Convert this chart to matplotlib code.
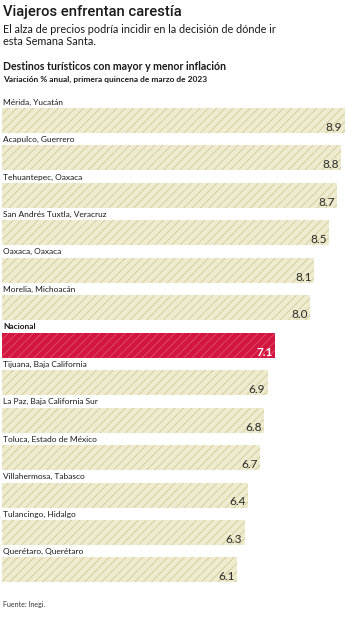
import matplotlib
matplotlib.use('Agg')
import matplotlib.pyplot as plt

# data
destinos = ['Mérida, Yucatán', 'Acapulco, Guerrero', 'Tehuantepec, Oaxaca',
            'San Andrés Tuxtla, Veracruz', 'Oaxaca, Oaxaca', 'Morelia, Michoacán',
            'Nacional', 'Tijuana, Baja California', 'La Paz, Baja California Sur',
            'Toluca, Estado de México', 'Villahermosa, Tabasco', 'Tulancingo, Hidalgo',
            'Querétaro, Querétaro']
inflacion = [8.9, 8.8, 8.7, 8.5, 8.1, 8.0, 7.1, 6.9, 6.8, 6.7, 6.4, 6.3, 6.1]

W, H = 346, 620
plt.rcParams['hatch.linewidth'] = 0.8
fig = plt.figure(figsize=(W/100, H/100), dpi=100)
fig.patch.set_facecolor('white')

fam = ['Lato', 'DejaVu Sans']
# no condensed face installed: Roboto medium, sized to the headline width
title = fig.text(3/W, 1-5/H, 'Viajeros enfrentan carestía', family=['Roboto', 'DejaVu Sans'],
                 fontweight='medium', fontsize=14, va='top', ha='left', color='#1a1a1a')
fig.canvas.draw()
tw = title.get_window_extent().width
title.set_fontsize(14*178/tw)

fig.text(3/W, 1-24/H, 'El alza de precios podría incidir en la decisión de dónde ir\nesta Semana Santa.',
         family=fam, fontsize=7.8, va='top', ha='left', color='#1a1a1a', linespacing=1.1)
fig.text(3/W, 1-61/H, 'Destinos turísticos con mayor y menor inflación', family=fam,
         fontsize=7.6, fontweight='bold', va='top', ha='left', color='#1a1a1a')
fig.text(3/W, 1-76/H, 'Variación % anual, primera quincena de marzo de 2023', family=fam,
         fontsize=6.0, fontweight='bold', va='top', ha='left', color='#1a1a1a')
fig.text(3/W, 1-605/H, 'Fuente: Inegi.', family=fam, fontsize=5, va='center', ha='left', color='#333333')

# bars axis: 38.5 px per unit, 37.45 px per row
row = 37.45
top_px, bot_px = 95, 590
ax = fig.add_axes([2/W, 1-bot_px/H, 344/W, (bot_px-top_px)/H])
y0 = -(120.5-top_px)/row
ax.set_ylim(y0+(bot_px-top_px)/row, y0)
ax.set_xlim(0, 344/38.5)
ax.axis('off')

for i, (d, v) in enumerate(zip(destinos, inflacion)):
    nac = d == 'Nacional'
    fc = '#d3153f' if nac else '#eeebcf'
    hc = '#dd4566' if nac else '#d8d2a6'
    ax.barh(i, v, height=25/row, color=fc, edgecolor=hc, hatch='////', linewidth=0)
    ax.text(1/38.5, i-0.49, d, family=fam, fontsize=6.0, va='center', ha='left',
            color='#1a1a1a', fontweight='bold' if nac else 'normal')
    ax.text(v-0.06, i+0.28, '%.1f' % v, family=fam, fontsize=8.5, va='baseline', ha='right',
            color='white' if nac else '#2a2a2a', fontweight='bold' if nac else 'normal')

fig.savefig('out.png', dpi=100)
